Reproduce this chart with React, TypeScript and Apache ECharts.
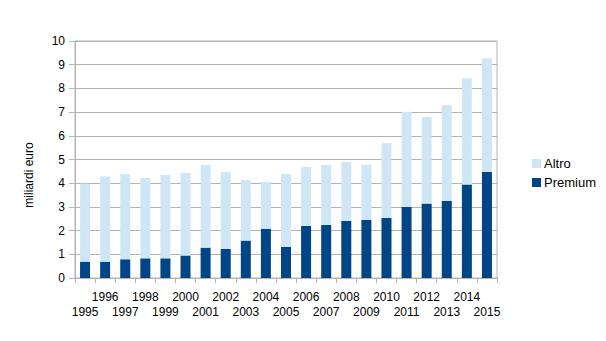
import React, { useEffect, useRef } from "react";
import * as echarts from "echarts";

const years = [
  "1995", "1996", "1997", "1998", "1999", "2000", "2001", "2002", "2003", "2004",
  "2005", "2006", "2007", "2008", "2009", "2010", "2011", "2012", "2013", "2014", "2015",
];
const premium = [
  0.69, 0.69, 0.79, 0.83, 0.83, 0.95, 1.28, 1.23, 1.58, 2.08,
  1.32, 2.2, 2.24, 2.41, 2.45, 2.54, 3.0, 3.14, 3.25, 3.94, 4.47,
];
const altro = [
  3.29, 3.59, 3.6, 3.39, 3.52, 3.48, 3.49, 3.24, 2.56, 1.97,
  3.07, 2.48, 2.53, 2.48, 2.32, 3.15, 4.01, 3.65, 4.04, 4.49, 4.8,
];
const yTicks = [0, 10];
const yAxisTitle = "miliardi euro";

const font = "'Liberation Sans', Arial, sans-serif";

export default function App() {
  const ref = useRef<HTMLDivElement>(null);
  useEffect(() => {
    if (!ref.current) return;
    const chart = echarts.init(ref.current, undefined, { renderer: "svg" });
    chart.setOption({
      animation: false,
      backgroundColor: "#ffffff",
      textStyle: { fontFamily: font },
      grid: {
        left: 75,
        right: 109,
        top: 41,
        bottom: 63,
        show: true,
        borderColor: "#b3b3b3",
        borderWidth: 1,
      },
      legend: {
        orient: "vertical",
        left: 527,
        top: 152,
        itemWidth: 9,
        itemHeight: 9,
        itemGap: 6,
        icon: "rect",
        data: ["Altro", "Premium"],
        textStyle: { fontSize: 13, color: "#000", fontFamily: font, padding: [0, 0, 0, -2] },
      },
      graphic: [
        {
          type: "text",
          x: 29,
          y: 175,
          rotation: Math.PI / 2,
          style: {
            text: yAxisTitle,
            fontSize: 12,
            fontFamily: font,
            fill: "#000",
            align: "center",
            verticalAlign: "middle",
          },
        },
      ],
      xAxis: {
        type: "category",
        data: years,
        boundaryGap: true,
        axisLine: { show: true, lineStyle: { color: "#b3b3b3" } },
        axisTick: { show: true, alignWithLabel: false, length: 5, lineStyle: { color: "#b3b3b3" } },
        axisLabel: {
          interval: 0,
          fontSize: 12,
          color: "#000",
          fontFamily: font,
          margin: 11,
          lineHeight: 15,
          formatter: (v: string, i: number) => (i % 2 === 0 ? "\n" + v : v),
        },
        splitLine: { show: false },
      },
      yAxis: {
        type: "value",
        min: yTicks[0],
        max: yTicks[1],
        interval: 1,
        axisLine: { show: true, lineStyle: { color: "#b3b3b3" } },
        axisTick: { show: true, length: 6, lineStyle: { color: "#b3b3b3" } },
        axisLabel: { fontSize: 12, color: "#000", fontFamily: font, margin: 10 },
        splitLine: { show: true, lineStyle: { color: "#b3b3b3" } },
      },
      series: [
        {
          name: "Premium",
          type: "bar",
          stack: "tot",
          data: premium,
          barWidth: 10,
          itemStyle: { color: "#004586" },
        },
        {
          name: "Altro",
          type: "bar",
          stack: "tot",
          data: altro,
          barWidth: 10,
          itemStyle: { color: "#cfe7f5" },
        },
      ],
    });
    return () => chart.dispose();
  }, []);
  return (
    <div
      ref={ref}
      style={{ position: "fixed", left: 0, top: 0, width: 606, height: 341 }}
    />
  );
}
